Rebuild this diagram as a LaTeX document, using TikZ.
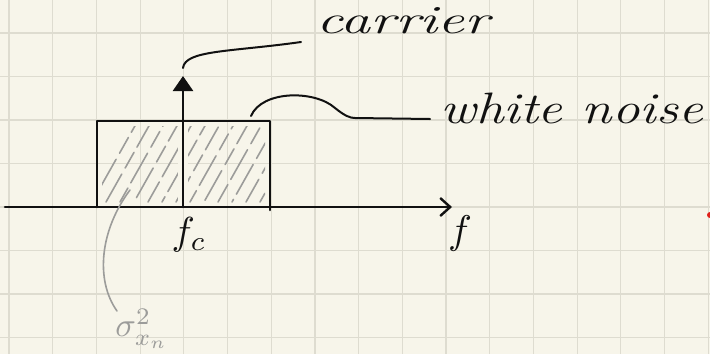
\documentclass[tikz,border=0pt]{standalone}
\usetikzlibrary{arrows.meta}
\definecolor{paper}{HTML}{F7F5EA}
\definecolor{gridc}{HTML}{DEDCD0}
\definecolor{ink}{HTML}{111111}
\definecolor{pencil}{HTML}{9C9C9A}
\definecolor{reddot}{HTML}{E0201A}
\tikzset{
  inkline/.style={draw=ink, line width=2.6pt, line cap=round, line join=round},
  thinink/.style={draw=ink, line width=2pt, line cap=round},
  hatch/.style={draw=pencil, line width=1.6pt, line cap=round, dash pattern=on 26pt off 6pt on 34pt off 7pt on 18pt off 6pt},
  greyline/.style={draw=pencil, line width=1.6pt, line cap=round},
  hand/.style={inner sep=0pt, text=ink, font=\itshape},
}
\begin{document}
\begin{tikzpicture}[x=1pt,y=-1pt]
\fill[paper] (0,0) rectangle (710,354);
\useasboundingbox (0,0) rectangle (710,354);
% grid
\foreach \k in {0,...,16} \draw[gridc, line width=1.2pt] ({9+43.7*\k},0) -- ({9+43.7*\k},354);
\foreach \k in {0,...,7} \draw[gridc, line width=1.2pt] (0,{33+43.5*\k}) -- (710,{33+43.5*\k});
% red dot at edge
\fill[reddot] (710,215) circle (3);
% hatching
\begin{scope}
\clip (102,126) rectangle (265,202);
\foreach \s [count=\i] in {92,106,...,290} \draw[hatch, dash phase={mod(\i*17,41)}] (\s,202) -- ({\s+44},124);
\end{scope}
\fill[paper] (178,122) rectangle (188,206);
% coordinates
\coordinate (ax0) at (5,207);
\coordinate (ax1) at (452,207);
\coordinate (bl) at (97,207);
\coordinate (tl) at (97,121);
\coordinate (tr) at (270,121);
\coordinate (br) at (270,210);
\coordinate (cb) at (183,207);
\coordinate (ct) at (183,76);
% box
\draw[inkline] (bl) -- (tl) -- (tr) -- (br);
% axis
\draw[inkline, -{Straight Barb[length=10pt,width=18pt,line width=2.4pt]}] (ax0) -- (ax1);
% carrier
\draw[inkline, -{Triangle[length=15pt,width=20pt]}] (cb) -- (ct);
% labels
\node[hand, anchor=base west, xscale=1.5, font=\fontsize{40}{40}\selectfont\itshape] (carrier) at (316,33) {carrier};
\node[hand, anchor=base west, xscale=1.25, font=\fontsize{44}{44}\selectfont\itshape] (wn) at (440,123) {white noise};
\node[inner sep=0pt, text=ink, scale=3.9] (fc) at (189,235) {$f_c$};
\node[inner sep=0pt, text=ink, scale=4] (f) at (460,233) {$f$};
\node[inner sep=0pt, text=pencil, scale=3.4] (sig) at (142,329) {$\sigma^2_{x_n}$};
% leaders
\coordinate (c0) at (183,68);
\coordinate (c1) at (301,42);
\draw[thinink] (c0) .. controls (185,50) and (230,52) .. (c1);
\coordinate (w0) at (251,116);
\coordinate (wm) at (355,118);
\coordinate (w1) at (430,119);
\draw[thinink] (w0) .. controls (262,90) and (315,90) .. (335,108) .. controls (345,116) and (350,118) .. (wm) -- (w1);
\coordinate (g0) at (130,190);
\coordinate (g1) at (117,311);
\draw[greyline] (g0) .. controls (100,230) and (95,280) .. (g1);
\end{tikzpicture}
\end{document}
